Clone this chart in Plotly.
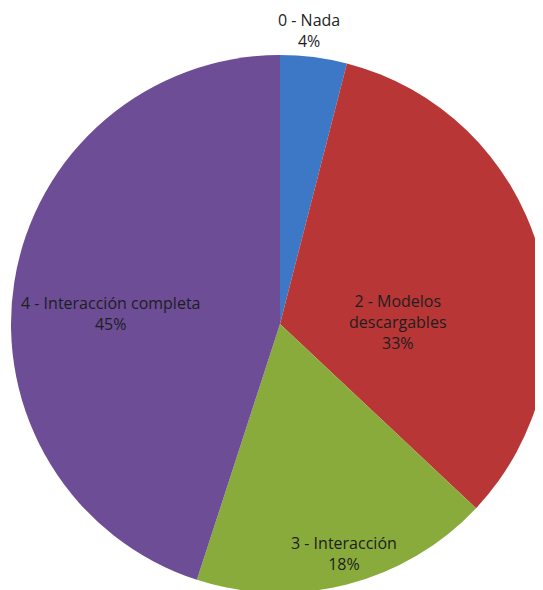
import plotly.graph_objects as go

labels = ["0 - Nada", "2 - Modelos<br>descargables", "3 - Interacción", "4 - Interacción completa"]
values = [4, 33, 18, 45]
colors = ["#3C78C6", "#B83636", "#88AB3C", "#6C4D96"]

# The page body has an 8px margin, so the figure is drawn 8px larger and
# everything is placed in page pixels minus that offset.
OFF = 8
W, H = 543 + OFF, 590 + OFF

# label centres in page pixels (x, y from top)
label_pos = [(309, 31), (398, 322), (344, 553), (110, 313)]

# pie centre and radius in page pixels
CX, CY, R = 280, 324, 269

FONT = dict(family="Open Sans, Liberation Sans, sans-serif", size=16, color="#1e1e1e")

cx, cy = CX - OFF, CY - OFF
fig = go.Figure(go.Pie(
    labels=labels,
    values=values,
    sort=False,
    direction="clockwise",
    rotation=0,
    marker=dict(colors=colors, line=dict(width=0)),
    textinfo="none",
    domain=dict(x=[(cx - R) / W, (cx + R) / W],
                y=[1 - (cy + R) / H, 1 - (cy - R) / H]),
    showlegend=False,
    hoverinfo="label+percent",
))

total = sum(values)
for lab, val, (px, py) in zip(labels, values, label_pos):
    fig.add_annotation(
        x=(px - OFF) / W, y=1 - (py - OFF) / H, xref="paper", yref="paper",
        text=f"{lab}<br>{round(100 * val / total)}%",
        showarrow=False, font=FONT, align="center",
        xanchor="center", yanchor="middle",
    )

fig.update_layout(
    width=W, height=H,
    margin=dict(l=0, r=0, t=0, b=0),
    paper_bgcolor="white",
    plot_bgcolor="white",
)

fig.write_html("out.html")
